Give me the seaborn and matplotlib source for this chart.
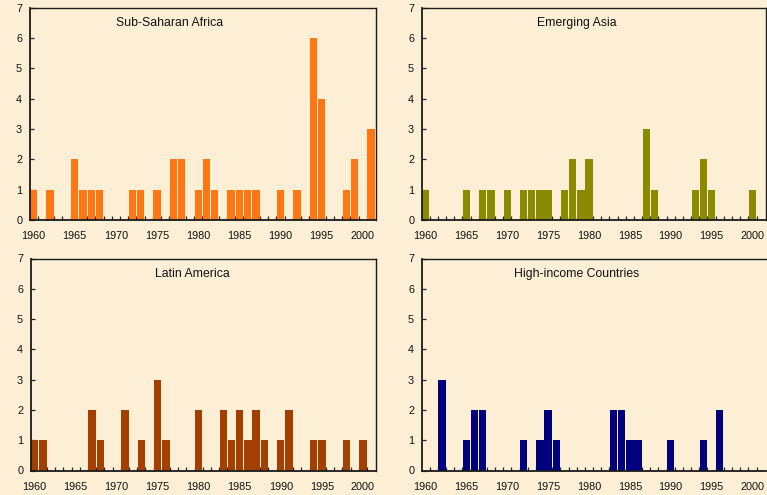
import matplotlib
matplotlib.use("Agg")
import matplotlib.pyplot as plt
from matplotlib.ticker import FixedLocator
import seaborn as sns
import pandas as pd

# Number of episodes per year, 1960-2001
years = list(range(1960, 2002))

sub_saharan_africa = [1, 0, 1, 0, 0, 2, 1, 1, 1, 0,
                      0, 0, 1, 1, 0, 1, 0, 2, 2, 0,
                      1, 2, 1, 0, 1, 1, 1, 1, 0, 0,
                      1, 0, 1, 0, 6, 4, 0, 0, 1, 2,
                      0, 3]
emerging_asia = [1, 0, 0, 0, 0, 1, 0, 1, 1, 0,
                 1, 0, 1, 1, 1, 1, 0, 1, 2, 1,
                 2, 0, 0, 0, 0, 0, 0, 3, 1, 0,
                 0, 0, 0, 1, 2, 1, 0, 0, 0, 0,
                 1, 0]
latin_america = [1, 1, 0, 0, 0, 0, 0, 2, 1, 0,
                 0, 2, 0, 1, 0, 3, 1, 0, 0, 0,
                 2, 0, 0, 2, 1, 2, 1, 2, 1, 0,
                 1, 2, 0, 0, 1, 1, 0, 0, 1, 0,
                 1, 0]
high_income = [0, 0, 3, 0, 0, 1, 2, 2, 0, 0,
               0, 0, 1, 0, 1, 2, 1, 0, 0, 0,
               0, 0, 0, 2, 2, 1, 1, 0, 0, 0,
               1, 0, 0, 0, 1, 0, 2, 0, 0, 0,
               0, 0]

panel_titles = ["Sub-Saharan Africa", "Emerging Asia",
                "Latin America", "High-income Countries"]
panel_values = [sub_saharan_africa, emerging_asia, latin_america, high_income]
panel_colors = ["#FF7713", "#8A8A00", "#A33F00", "#00007E"]
x_tick_labels = [1960, 1965, 1970, 1975, 1980, 1985, 1990, 1995, 2000]
y_tick_labels = [0, 1, 2, 3, 4, 5, 6, 7]

bg = "#FCEFD6"
sns.set_theme(style="white")
plt.rcParams["font.family"] = ["Liberation Sans", "DejaVu Sans"]

W, H = 767, 495
fig = plt.figure(figsize=(W / 100, H / 100), dpi=100, facecolor=bg)

# axes boxes in pixel coordinates: (left, top, right, bottom)
boxes = [
    (29.5, 7.5, 376.0, 220.0),
    (421.5, 7.5, 765.5, 220.0),
    (30.5, 258.5, 376.0, 470.5),
    (421.5, 258.5, 765.5, 470.5),
]
title_x = [0.405, 0.452, 0.469, 0.450]

for i, (title, vals, color) in enumerate(zip(panel_titles, panel_values, panel_colors)):
    l, t, r, b = boxes[i]
    ax = fig.add_axes([l / W, 1 - b / H, (r - l) / W, (b - t) / H])
    ax.set_facecolor(bg)
    df = pd.DataFrame({"year": years, "count": vals})
    sns.barplot(data=df, x="year", y="count", native_scale=True, width=0.9,
                color=color, saturation=1, errorbar=None, linewidth=0, ax=ax)
    ax.set_xlim(1959.5, 2001.6)
    ax.set_ylim(0, 7)
    ax.set_xlabel("")
    ax.set_ylabel("")
    ax.xaxis.set_major_locator(FixedLocator(x_tick_labels))
    ax.set_xticklabels([str(v) for v in x_tick_labels])
    ax.xaxis.set_minor_locator(FixedLocator([y + 0.5 for y in years[:-1]]))
    ax.set_yticks(y_tick_labels)
    ax.set_yticklabels([str(v) for v in y_tick_labels])
    ax.tick_params(axis="x", which="major", length=0, pad=8.0,
                   labelsize=7.8, labelcolor="#111111")
    ax.tick_params(axis="x", which="minor", direction="in", length=3,
                   width=0.9, color="#222222", bottom=True)
    ax.tick_params(axis="y", direction="in", length=3, width=0.9,
                   color="#222222", pad=5.3, labelsize=7.8, labelcolor="#111111",
                   left=True)
    for side, sp in ax.spines.items():
        sp.set_visible(True)
        sp.set_color("#1a1a1a")
        sp.set_linewidth(1.3 if side in ("left", "bottom") else 1.0)
    if i == 3:
        # this panel's frame runs past the right edge of the page
        ax.spines["right"].set_visible(False)
    ax.grid(False)
    ax.text(title_x[i], 0.927, title, transform=ax.transAxes,
            ha="center", va="center", fontsize=8.8, color="#111111")

fig.savefig("out.png", dpi=100, facecolor=bg)
